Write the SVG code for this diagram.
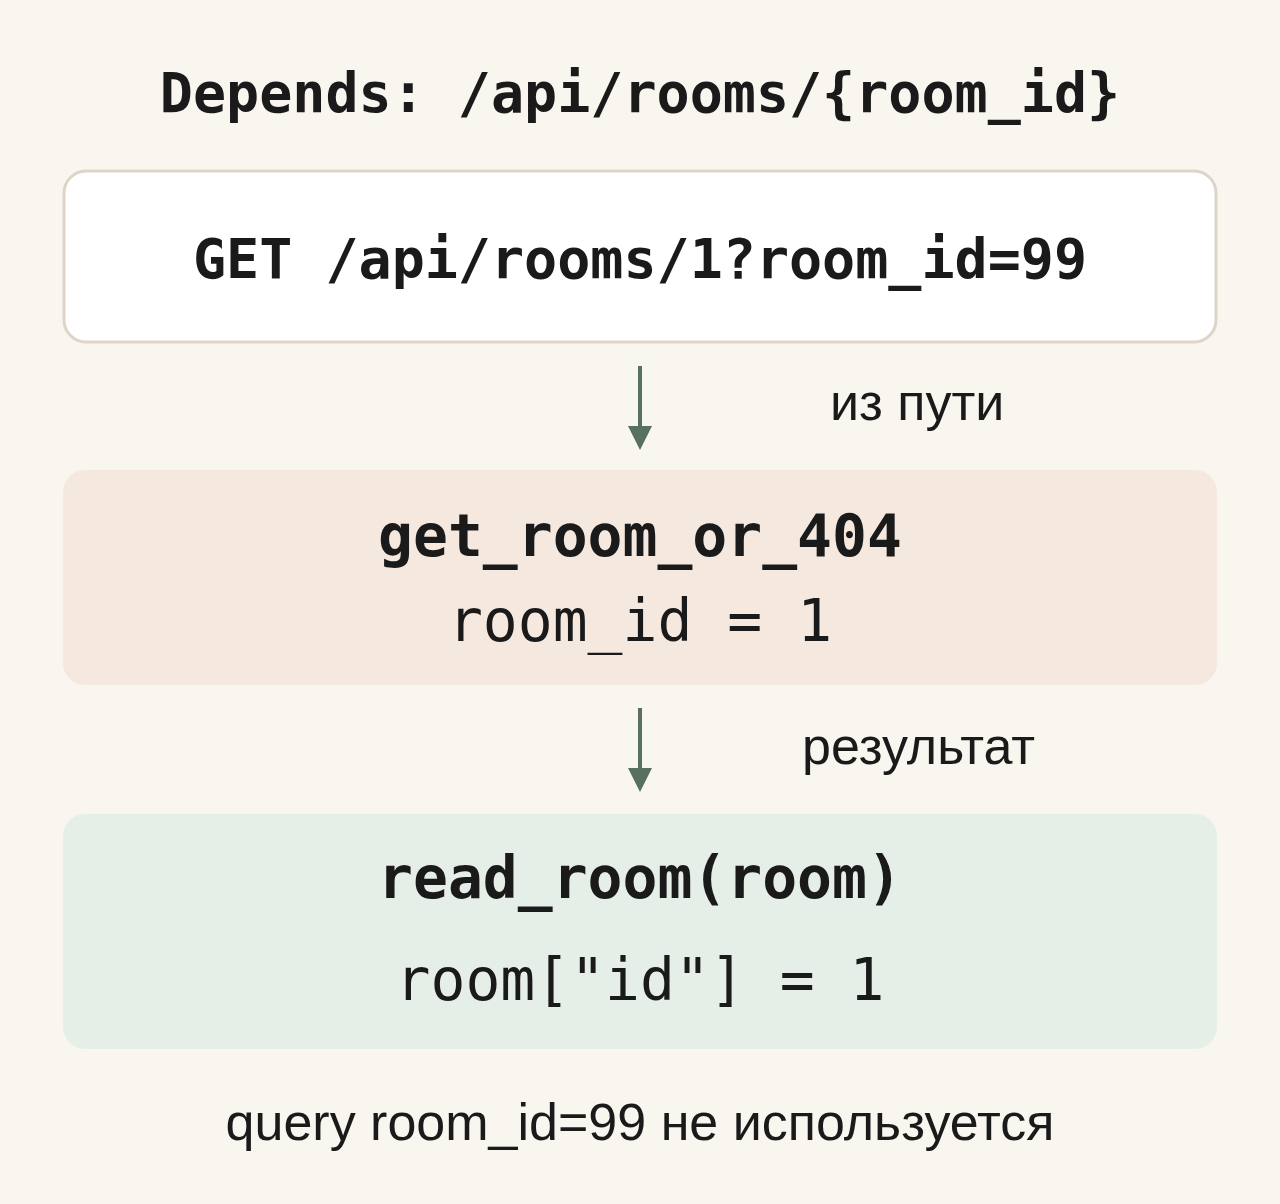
<svg xmlns="http://www.w3.org/2000/svg" width="1280" height="1204" viewBox="0 0 1280 1204">
<style>
.m{font-family:"DejaVu Sans Mono",monospace;fill:#1a1a1a;text-anchor:middle}
.b{font-weight:bold}
.s{font-family:"Liberation Sans",Arial,sans-serif;fill:#1a1a1a;font-size:52px}
</style>
<defs><marker id="a" markerWidth="10" markerHeight="10" refX="5" refY="5" orient="auto" markerUnits="userSpaceOnUse" viewBox="0 0 10 10"><path d="M0,0L10,5L0,10z" fill="#577060"/></marker></defs>
<rect width="1280" height="1204" fill="#f9f5ef"/>
<text class="m b" x="640" y="112" font-size="55">Depends: /api/rooms/{room_id}</text>
<g id="request"><rect x="64" y="171" width="1152" height="171" rx="22" fill="#fff" stroke="#ddd5c8" stroke-width="3"/>
<text class="m b" x="640" y="278" font-size="55">GET /api/rooms/1?room_id=99</text></g>
<g id="dep"><rect x="63" y="470" width="1154" height="215" rx="22" fill="#f5e8df"/>
<text class="m b" x="640" y="556" font-size="58">get_room_or_404</text>
<text class="m" x="640" y="641" font-size="58">room_id = 1</text></g>
<g id="handler"><rect x="63" y="814" width="1154" height="235" rx="22" fill="#e6efe7"/>
<text class="m b" x="640" y="898" font-size="58">read_room(room)</text>
<text class="m" x="640" y="1000" font-size="58">room["id"] = 1</text></g>
<g id="connectors" stroke="#577060" stroke-width="4">
<line x1="640" y1="366" x2="640" y2="428"/><path d="M628,426L652,426L640,450z" fill="#577060" stroke="none"/>
<line x1="640" y1="708" x2="640" y2="770"/><path d="M628,768L652,768L640,792z" fill="#577060" stroke="none"/>
</g>
<text class="s" x="830" y="420">из пути</text>
<text class="s" x="802" y="764">результат</text>
<text class="s" x="640" y="1140" text-anchor="middle">query room_id=99 не используется</text>
</svg>
